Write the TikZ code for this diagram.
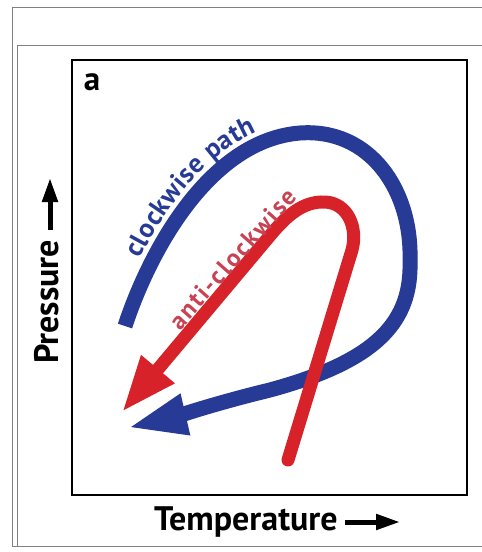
\documentclass[tikz,border=0pt]{standalone}
\usepackage{fontspec}
\setmainfont{PT Sans}
\usepackage{tikz}
\usetikzlibrary{arrows.meta,decorations.text}
\definecolor{cwblue}{RGB}{38,58,150}
\definecolor{acred}{RGB}{214,34,40}
\definecolor{actext}{RGB}{200,66,82}

\begin{document}
\begin{tikzpicture}[x=1pt,y=-1pt,cw/.style={cwblue,line width=15pt},acw/.style={acred,line width=13pt,line cap=round},axlbl/.style={font=\bfseries\fontsize{34}{34}\selectfont,inner sep=0pt},axarr/.style={line width=5pt,-{Triangle[length=24pt,width=15pt]}}]
\useasboundingbox(0,0)rectangle(482,552);
\draw[gray,line width=.8pt](482,7)--(12,7)--(12,546)--(482,546)(482,45)--(17,45)--(17,546);
\draw[line width=2pt](72,60)rectangle(467,495);
\node[font=\bfseries\fontsize{33}{33}\selectfont,inner sep=0pt](lbla)at(92,82){a};
\node[axlbl,anchor=base west](tl)at(154,530){Temperature};\node[axlbl,anchor=base west,rotate=90](pl)at(58,364){Pressure};
\coordinate(ta)at(345,522);\coordinate(tb)at(400,522);\coordinate(pb)at(50,230);\coordinate(pt)at(50,178);
\draw[axarr](ta)--(tb);\draw[axarr](pb)--(pt);
\coordinate(bs)at(125,326);\coordinate(be)at(127,428);\coordinate(rs)at(288,460);\coordinate(re)at(122,412);
\draw[cw,-{Triangle[length=60pt,width=38pt]}](bs)..controls(150,250)and(210,140)..(300,133)..controls(370,128)and(412,190)..(410,260)..controls(412,320)and(380,360)..(270,390)..controls(220,402)and(170,418)..(be);
\draw[acw,-{Triangle[length=56pt,width=40pt]}](rs)--(352,250)..controls(358,228)and(348,203)..(325,202)..controls(303,201)and(287,216)..(273,232)--(re);
\coordinate(cs)at(140,259);\coordinate(ce)at(257,132);\coordinate(as)at(180,331);\coordinate(ae)at(298,198);
\path[decorate,decoration={text along path,text={|\bfseries\fontsize{27}{27}\selectfont|clockwise path},text color=cwblue,text align={fit to path}}](cs)..controls(166,207)and(206,154)..(ce);
\path[decorate,decoration={text along path,text={|\bfseries\fontsize{25}{25}\selectfont|anti-clockwise},text color=actext,text align={fit to path}}](as)--(ae);
\end{tikzpicture}
\end{document}
